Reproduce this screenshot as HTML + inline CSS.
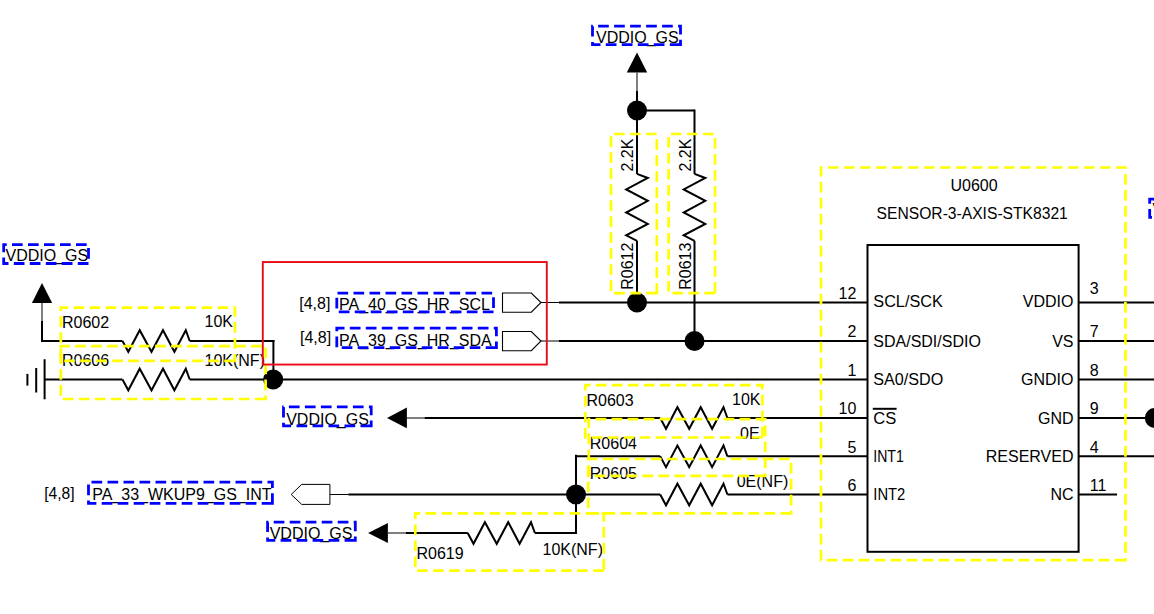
<!DOCTYPE html>
<html><head><meta charset="utf-8"><style>
html,body{margin:0;padding:0;background:#fff;}
svg{display:block;}
text{font-family:"Liberation Sans",sans-serif;}
</style></head><body>
<svg width="1154" height="614" viewBox="0 0 1154 614">
<rect width="1154" height="614" fill="#fff"/>
<polygon points="637,52.6 626.8,72.6 647.2,72.6" fill="#000"/>
<line x1="637" y1="72.6" x2="637" y2="91" stroke="#000" stroke-width="1"/>
<line x1="637" y1="91" x2="637" y2="173.9" stroke="#000" stroke-width="2"/>
<line x1="636" y1="110.5" x2="694.5" y2="110.5" stroke="#000" stroke-width="2"/>
<line x1="694.5" y1="109.5" x2="694.5" y2="173.9" stroke="#000" stroke-width="2"/>
<polyline points="637.00,173.90 647.80,178.00 626.20,189.40 647.80,200.80 626.20,212.50 647.80,223.90 626.20,235.30 637.00,240.80" fill="none" stroke="#000" stroke-width="2" stroke-linejoin="miter"/>
<polyline points="694.50,173.90 705.30,178.00 683.70,189.40 705.30,200.80 683.70,212.50 705.30,223.90 683.70,235.30 694.50,240.80" fill="none" stroke="#000" stroke-width="2" stroke-linejoin="miter"/>
<line x1="637" y1="240.8" x2="637" y2="302.5" stroke="#000" stroke-width="2"/>
<line x1="694.5" y1="240.8" x2="694.5" y2="341" stroke="#000" stroke-width="2"/>
<circle cx="637" cy="110.5" r="10" fill="#000"/>
<circle cx="637" cy="302.5" r="10" fill="#000"/>
<circle cx="694.5" cy="341" r="10" fill="#000"/>
<polygon points="502.5,293.0 531.3,293.0 541,302.5 531.3,312.2 502.5,312.2" fill="none" stroke="#000" stroke-width="1.1"/>
<line x1="541" y1="302.5" x2="559" y2="302.5" stroke="#000" stroke-width="1"/>
<line x1="559" y1="302.5" x2="867.5" y2="302.5" stroke="#000" stroke-width="2"/>
<polygon points="502.5,331.5 531.3,331.5 541,341 531.3,350.7 502.5,350.7" fill="none" stroke="#000" stroke-width="1.1"/>
<line x1="541" y1="341" x2="559" y2="341" stroke="#000" stroke-width="1"/>
<line x1="559" y1="341" x2="867.5" y2="341" stroke="#000" stroke-width="2"/>
<polygon points="42,282.9 31.9,302.9 52.2,302.9" fill="#000"/>
<line x1="42" y1="302.9" x2="42" y2="321" stroke="#000" stroke-width="1"/>
<line x1="42" y1="321" x2="42" y2="342" stroke="#000" stroke-width="2"/>
<line x1="41" y1="341" x2="122.5" y2="341" stroke="#000" stroke-width="2"/>
<polyline points="122.50,341.00 128.30,351.80 139.70,330.20 151.50,351.80 163.00,330.20 174.40,351.80 185.80,330.20 189.70,341.00" fill="none" stroke="#000" stroke-width="2" stroke-linejoin="miter"/>
<line x1="189.7" y1="341" x2="274.4" y2="341" stroke="#000" stroke-width="2"/>
<line x1="273.4" y1="340" x2="273.4" y2="379.5" stroke="#000" stroke-width="2"/>
<line x1="44.6" y1="379.5" x2="122.5" y2="379.5" stroke="#000" stroke-width="2"/>
<polyline points="122.50,379.50 128.30,390.30 139.70,368.70 151.50,390.30 163.00,368.70 174.40,390.30 185.80,368.70 189.70,379.50" fill="none" stroke="#000" stroke-width="2" stroke-linejoin="miter"/>
<line x1="189.7" y1="379.5" x2="867.5" y2="379.5" stroke="#000" stroke-width="2"/>
<line x1="44.6" y1="359.2" x2="44.6" y2="399.3" stroke="#000" stroke-width="2"/>
<line x1="36.2" y1="368" x2="36.2" y2="392.5" stroke="#000" stroke-width="2"/>
<line x1="27.4" y1="373.9" x2="27.4" y2="385.6" stroke="#000" stroke-width="2"/>
<circle cx="273.2" cy="379.5" r="10" fill="#000"/>
<polygon points="387,418 406.9,407.6 406.9,428.2" fill="#000"/>
<line x1="406.9" y1="418" x2="424.5" y2="418" stroke="#000" stroke-width="1"/>
<line x1="424.5" y1="418" x2="660.2" y2="418" stroke="#000" stroke-width="2"/>
<polyline points="660.20,418.00 666.00,428.80 677.40,407.20 689.20,428.80 700.70,407.20 712.10,428.80 723.50,407.20 727.40,418.00" fill="none" stroke="#000" stroke-width="2" stroke-linejoin="miter"/>
<line x1="727.4000000000001" y1="418" x2="867.5" y2="418" stroke="#000" stroke-width="2"/>
<line x1="575" y1="456.3" x2="660.2" y2="456.3" stroke="#000" stroke-width="2"/>
<polyline points="660.20,456.30 666.00,467.10 677.40,445.50 689.20,467.10 700.70,445.50 712.10,467.10 723.50,445.50 727.40,456.30" fill="none" stroke="#000" stroke-width="2" stroke-linejoin="miter"/>
<line x1="727.4000000000001" y1="456.3" x2="867.5" y2="456.3" stroke="#000" stroke-width="2"/>
<polygon points="291.2,494.5 301.7,484.4 329.9,484.4 329.9,504.4 301.7,504.4" fill="none" stroke="#000" stroke-width="1"/>
<line x1="329.9" y1="494.5" x2="348.3" y2="494.5" stroke="#000" stroke-width="1"/>
<line x1="348.3" y1="494.5" x2="660.2" y2="494.5" stroke="#000" stroke-width="2"/>
<polyline points="660.20,494.50 666.00,505.30 677.40,483.70 689.20,505.30 700.70,483.70 712.10,505.30 723.50,483.70 727.40,494.50" fill="none" stroke="#000" stroke-width="2" stroke-linejoin="miter"/>
<line x1="727.4000000000001" y1="494.5" x2="867.5" y2="494.5" stroke="#000" stroke-width="2"/>
<line x1="576" y1="454.8" x2="576" y2="534" stroke="#000" stroke-width="2"/>
<circle cx="576" cy="494.5" r="10" fill="#000"/>
<polygon points="368.1,533 387.9,523 387.9,543" fill="#000"/>
<line x1="387.9" y1="533" x2="405.8" y2="533" stroke="#000" stroke-width="1"/>
<line x1="405.8" y1="533" x2="467.7" y2="533" stroke="#000" stroke-width="2"/>
<polyline points="467.70,533.00 473.50,543.80 484.90,522.20 496.70,543.80 508.20,522.20 519.60,543.80 531.00,522.20 534.90,533.00" fill="none" stroke="#000" stroke-width="2" stroke-linejoin="miter"/>
<line x1="534.9" y1="533" x2="577" y2="533" stroke="#000" stroke-width="2"/>
<rect x="867.5" y="245" width="211.1" height="306.8" fill="none" stroke="#000" stroke-width="2"/>
<line x1="1078.6" y1="302.5" x2="1154" y2="302.5" stroke="#000" stroke-width="2"/>
<line x1="1078.6" y1="341" x2="1154" y2="341" stroke="#000" stroke-width="2"/>
<line x1="1078.6" y1="379.5" x2="1154" y2="379.5" stroke="#000" stroke-width="2"/>
<line x1="1078.6" y1="418" x2="1154" y2="418" stroke="#000" stroke-width="2"/>
<line x1="1078.6" y1="456.3" x2="1154" y2="456.3" stroke="#000" stroke-width="2"/>
<line x1="1078.6" y1="494.5" x2="1117" y2="494.5" stroke="#000" stroke-width="2"/>
<circle cx="1154.8" cy="418" r="10" fill="#000"/>
<g font-family="Liberation Sans, sans-serif" font-size="16" fill="#000">
<text x="596" y="43" text-anchor="start" >VDDIO_GS</text>
<text x="5.5" y="261" text-anchor="start" >VDDIO_GS</text>
<text x="286.2" y="424.8" text-anchor="start" >VDDIO_GS</text>
<text x="269.7" y="539.3" text-anchor="start" >VDDIO_GS</text>
<text x="1152.5" y="215" text-anchor="start" >VDDIO_GS</text>
<text x="299.2" y="309" text-anchor="start" >[4,8]</text>
<text x="339" y="309.5" text-anchor="start" >PA_40_GS_HR_SCL</text>
<text x="300" y="343" text-anchor="start" >[4,8]</text>
<text x="339" y="345.5" text-anchor="start" >PA_39_GS_HR_SDA</text>
<text x="44.2" y="499.2" text-anchor="start" textLength="30.4" lengthAdjust="spacingAndGlyphs">[4,8]</text>
<text x="92.2" y="499.6" text-anchor="start" >PA_33_WKUP9_GS_INT</text>
<text x="633.2" y="171.6" text-anchor="start" transform="rotate(-90 633.2 171.6)">2.2K</text>
<text x="690.7" y="171.6" text-anchor="start" transform="rotate(-90 690.7 171.6)">2.2K</text>
<text x="633.2" y="289.8" text-anchor="start" transform="rotate(-90 633.2 289.8)">R0612</text>
<text x="690.7" y="289.8" text-anchor="start" transform="rotate(-90 690.7 289.8)">R0613</text>
<text x="62" y="327.9" text-anchor="start" >R0602</text>
<text x="204.5" y="327.3" text-anchor="start" >10K</text>
<text x="62" y="365.6" text-anchor="start" >R0606</text>
<text x="204.5" y="365.9" text-anchor="start" >10K(NF)</text>
<text x="586.5" y="405.5" text-anchor="start" >R0603</text>
<text x="732" y="404.6" text-anchor="start" >10K</text>
<text x="589.8" y="448.7" text-anchor="start" >R0604</text>
<text x="740" y="438.7" text-anchor="start" >0E</text>
<text x="589.8" y="479" text-anchor="start" >R0605</text>
<text x="736.7" y="487.4" text-anchor="start" >0E(NF)</text>
<text x="416.5" y="558.8" text-anchor="start" >R0619</text>
<text x="542.5" y="554.9" text-anchor="start" >10K(NF)</text>
<text x="974" y="191.3" text-anchor="middle" >U0600</text>
<text x="972.2" y="219" text-anchor="middle" textLength="191.2" lengthAdjust="spacingAndGlyphs">SENSOR-3-AXIS-STK8321</text>
<text x="856.3" y="298.9" text-anchor="end" >12</text>
<text x="873.3" y="307.3" text-anchor="start" textLength="69.5" lengthAdjust="spacingAndGlyphs">SCL/SCK</text>
<text x="856.3" y="337.4" text-anchor="end" >2</text>
<text x="873.3" y="346.6" text-anchor="start" >SDA/SDI/SDIO</text>
<text x="856.3" y="375.9" text-anchor="end" >1</text>
<text x="873.3" y="384.7" text-anchor="start" textLength="70" lengthAdjust="spacingAndGlyphs">SA0/SDO</text>
<text x="856.3" y="414.4" text-anchor="end" >10</text>
<text x="873.3" y="423.9" text-anchor="start" textLength="23" lengthAdjust="spacingAndGlyphs">CS</text>
<text x="856.3" y="452.7" text-anchor="end" >5</text>
<text x="873.3" y="462.2" text-anchor="start" textLength="30.5" lengthAdjust="spacingAndGlyphs">INT1</text>
<text x="856.3" y="490.9" text-anchor="end" >6</text>
<text x="873.3" y="500.4" text-anchor="start" textLength="32" lengthAdjust="spacingAndGlyphs">INT2</text>
<text x="1073.5" y="307.3" text-anchor="end" >VDDIO</text>
<text x="1089.8" y="294.3" text-anchor="start" >3</text>
<text x="1073.5" y="346.8" text-anchor="end" >VS</text>
<text x="1089.8" y="337.3" text-anchor="start" >7</text>
<text x="1073.5" y="385.3" text-anchor="end" >GNDIO</text>
<text x="1089.8" y="375.8" text-anchor="start" >8</text>
<text x="1073.5" y="423.8" text-anchor="end" >GND</text>
<text x="1089.8" y="414.3" text-anchor="start" >9</text>
<text x="1073.5" y="462.1" text-anchor="end" >RESERVED</text>
<text x="1089.8" y="452.6" text-anchor="start" >4</text>
<text x="1073.5" y="500.3" text-anchor="end" >NC</text>
<text x="1089.8" y="490.8" text-anchor="start" >11</text>
</g>
<line x1="872.8" y1="408.8" x2="896.6" y2="408.8" stroke="#000" stroke-width="2"/>
<path d="M680.5,44.6 L592.5,44.6 L592.5,26.2 L680.5,26.2 Z" fill="none" stroke="#0000ff" stroke-width="2.8" stroke-dasharray="10.7 5.3" stroke-linejoin="miter"/>
<path d="M88.5,263.5 L3.7,263.5 L3.7,244.6 L88.5,244.6 Z" fill="none" stroke="#0000ff" stroke-width="2.8" stroke-dasharray="10.7 5.3" stroke-linejoin="miter"/>
<path d="M493.5,311.8 L336.8,311.8 L336.8,293.2 L493.5,293.2 Z" fill="none" stroke="#0000ff" stroke-width="2.8" stroke-dasharray="10.7 5.3" stroke-linejoin="miter"/>
<path d="M496.4,347.6 L336.8,347.6 L336.8,328.2 L496.4,328.2 Z" fill="none" stroke="#0000ff" stroke-width="2.8" stroke-dasharray="10.7 5.3" stroke-linejoin="miter"/>
<path d="M371.2,425.8 L283.5,425.8 L283.5,406.9 L371.2,406.9 Z" fill="none" stroke="#0000ff" stroke-width="2.8" stroke-dasharray="10.7 5.3" stroke-linejoin="miter"/>
<path d="M272.4,503.3 L88.5,503.3 L88.5,482.2 L272.4,482.2 Z" fill="none" stroke="#0000ff" stroke-width="2.8" stroke-dasharray="10.7 5.3" stroke-linejoin="miter"/>
<path d="M355.3,540.4 L267.6,540.4 L267.6,522.2 L355.3,522.2 Z" fill="none" stroke="#0000ff" stroke-width="2.8" stroke-dasharray="10.7 5.3" stroke-linejoin="miter"/>
<path d="M1200,217.4 L1149.7,217.4 L1149.7,199.2 L1200,199.2 Z" fill="none" stroke="#0000ff" stroke-width="2.8" stroke-dasharray="10.7 5.3" stroke-linejoin="miter"/>
<path d="M656.8,293.2 L611,293.2 L611,134 L656.8,134 Z" fill="none" stroke="#ffff00" stroke-width="2.7" stroke-dasharray="10.7 5.3" stroke-linejoin="miter"/>
<path d="M715,293.2 L668.6,293.2 L668.6,134 L715,134 Z" fill="none" stroke="#ffff00" stroke-width="2.7" stroke-dasharray="10.7 5.3" stroke-linejoin="miter"/>
<path d="M234.9,360.9 L60.8,360.9 L60.8,307.6 L234.9,307.6 Z" fill="none" stroke="#ffff00" stroke-width="2.7" stroke-dasharray="10.7 5.3" stroke-linejoin="miter"/>
<path d="M265.6,399 L60.8,399 L60.8,346.1 L265.6,346.1 Z" fill="none" stroke="#ffff00" stroke-width="2.7" stroke-dasharray="10.7 5.3" stroke-linejoin="miter"/>
<path d="M762.4,437.5 L585.3,437.5 L585.3,385.2 L762.4,385.2 Z" fill="none" stroke="#ffff00" stroke-width="2.7" stroke-dasharray="10.7 5.3" stroke-linejoin="miter"/>
<path d="M765.2,475.9 L588.8,475.9 L588.8,419.1 L765.2,419.1 Z" fill="none" stroke="#ffff00" stroke-width="2.7" stroke-dasharray="10.7 5.3" stroke-linejoin="miter"/>
<path d="M791.1,513.4 L588.2,513.4 L588.2,459.0 L791.1,459.0 Z" fill="none" stroke="#ffff00" stroke-width="2.7" stroke-dasharray="10.7 5.3" stroke-linejoin="miter"/>
<path d="M603.8,570.6 L415.3,570.6 L415.3,513.3 L603.8,513.3 Z" fill="none" stroke="#ffff00" stroke-width="2.7" stroke-dasharray="10.7 5.3" stroke-linejoin="miter"/>
<path d="M1125.4,560.1 L821,560.1 L821,167.5 L1125.4,167.5 Z" fill="none" stroke="#ffff00" stroke-width="2.7" stroke-dasharray="10.7 5.3" stroke-linejoin="miter"/>
<rect x="262.8" y="262.05" width="284" height="102.5" fill="none" stroke="#e90c14" stroke-width="1.9"/>
</svg></body></html>
